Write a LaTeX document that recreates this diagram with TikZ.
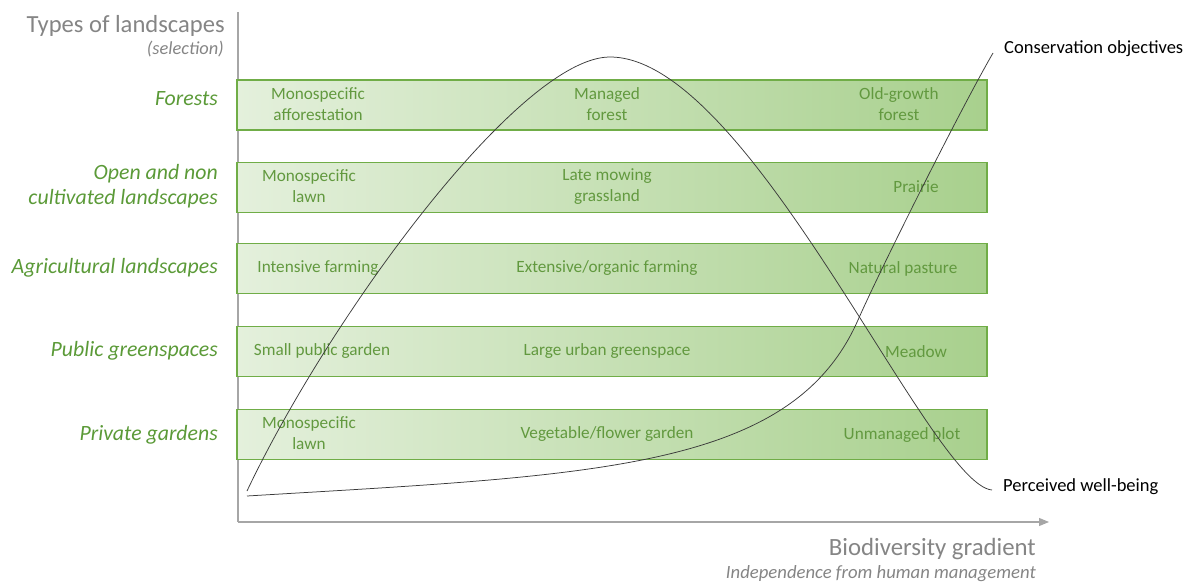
\documentclass[tikz,border=0pt]{standalone}
\usepackage{fontspec}
\setmainfont{Carlito}
\usetikzlibrary{arrows.meta}
\definecolor{barL}{HTML}{E4F0DC}
\definecolor{barR}{HTML}{A8D08D}
\definecolor{barborder}{HTML}{70AD47}
\definecolor{bartxt}{HTML}{62993F}
\definecolor{cattxt}{HTML}{5B9A38}
\definecolor{graytxt}{HTML}{858585}
\definecolor{axisgray}{HTML}{A6A6A6}
\definecolor{curvecol}{HTML}{3A3A3A}
\tikzset{
  bar/.style={draw=barborder, line width=1.3pt, left color=barL, right color=barR,
    minimum width=750pt, minimum height=50pt, inner sep=0pt},
  bartext/.style={text=bartxt, font=\fontsize{17.2}{21}\selectfont, align=center, inner sep=0pt},
  cat/.style={text=cattxt, font=\fontsize{21.8}{25}\selectfont\itshape, align=right, anchor=east, inner sep=0pt},
  axisline/.style={draw=axisgray, line width=1.1pt},
  curve/.style={draw=curvecol, line width=0.75pt},
  curvelabel/.style={text=black, font=\fontsize{18.5}{22}\selectfont, anchor=base west, inner sep=0pt},
}
\begin{document}
\begin{tikzpicture}[x=1pt,y=1pt]
\useasboundingbox (0,0) rectangle (1184,-583);
% axes
\coordinate (ytop) at (238,-12);
\coordinate (orig) at (238,-522);
\coordinate (xend) at (1049,-522);
\draw[axisline] (ytop) -- (orig);
\draw[axisline, -{Triangle[length=10pt,width=8pt]}] (orig) -- (xend);
% bars
\node[bar] (b1) at (612,-105) {};
\node[bar] (b2) at (612,-187.3) {};
\node[bar] (b3) at (612,-268.5) {};
\node[bar] (b4) at (612,-351.5) {};
\node[bar] (b5) at (612,-434.5) {};
% bar texts
\node[bartext] (t11) at (318,-104.5) {Monospecific\\afforestation};
\node[bartext] (t12) at (607,-104.5) {Managed\\forest};
\node[bartext] (t13) at (899,-104.5) {Old-growth\\forest};
\node[bartext] (t21) at (309,-186.5) {Monospecific\\lawn};
\node[bartext] (t22) at (607,-186.5) {Late mowing\\grassland};
\node[bartext] (t23) at (916,-187) {Prairie};
\node[bartext] (t31) at (318,-268.5) {Intensive farming};
\node[bartext] (t32) at (607,-268.5) {Extensive/organic farming};
\node[bartext] (t33) at (903,-268.5) {Natural pasture};
\node[bartext] (t41) at (322,-351.5) {Small public garden};
\node[bartext] (t42) at (607,-351.5) {Large urban greenspace};
\node[bartext] (t43) at (916,-351.5) {Meadow};
\node[bartext] (t51) at (309,-433.5) {Monospecific\\lawn};
\node[bartext] (t52) at (607,-434.5) {Vegetable/flower garden};
\node[bartext] (t53) at (902,-435) {Unmanaged plot};
% category labels
\node[cat] (c1) at (218,-99) {Forests};
\node[cat] (c2) at (218,-186.5) {Open and non\\cultivated landscapes};
\node[cat] (c3) at (218,-268) {Agricultural landscapes};
\node[cat] (c4) at (218,-351) {Public greenspaces};
\node[cat] (c5) at (218,-434.5) {Private gardens};
% titles
\node[text=graytxt, font=\fontsize{24.6}{28}\selectfont, anchor=base east, inner sep=0pt] (title) at (225,-33) {Types of landscapes};
\node[text=graytxt, font=\fontsize{18.4}{20}\selectfont\itshape, anchor=base east, inner sep=0pt] (sel) at (224,-55) {(selection)};
\node[text=graytxt, font=\fontsize{24.8}{28}\selectfont, anchor=base east, inner sep=0pt] (xtitle) at (1036,-555) {Biodiversity gradient};
\node[text=graytxt, font=\fontsize{18.7}{20}\selectfont\itshape, anchor=base east, inner sep=0pt] (xsub) at (1036,-578) {Independence from human management};
% curves
\coordinate (wbstart) at (247,-491);
\coordinate (wbpeak) at (610,-57);
\coordinate (wbend) at (992,-490);
\draw[curve] (wbstart) .. controls (330,-316) and (520,-57) .. (wbpeak)
  .. controls (750,-57) and (930,-485) .. (wbend);
\coordinate (costart) at (247,-496);
\coordinate (comid) at (858,-320);
\coordinate (coend) at (993,-53);
\draw[curve] (costart) .. controls (597,-475) and (792,-470) .. (comid)
  .. controls (880,-270) and (960,-110) .. (coend);
\node[curvelabel] (lwb) at (1003,-491.5) {Perceived well-being};
\node[curvelabel] (lco) at (1004,-53.3) {Conservation objectives};
\end{tikzpicture}
\end{document}
